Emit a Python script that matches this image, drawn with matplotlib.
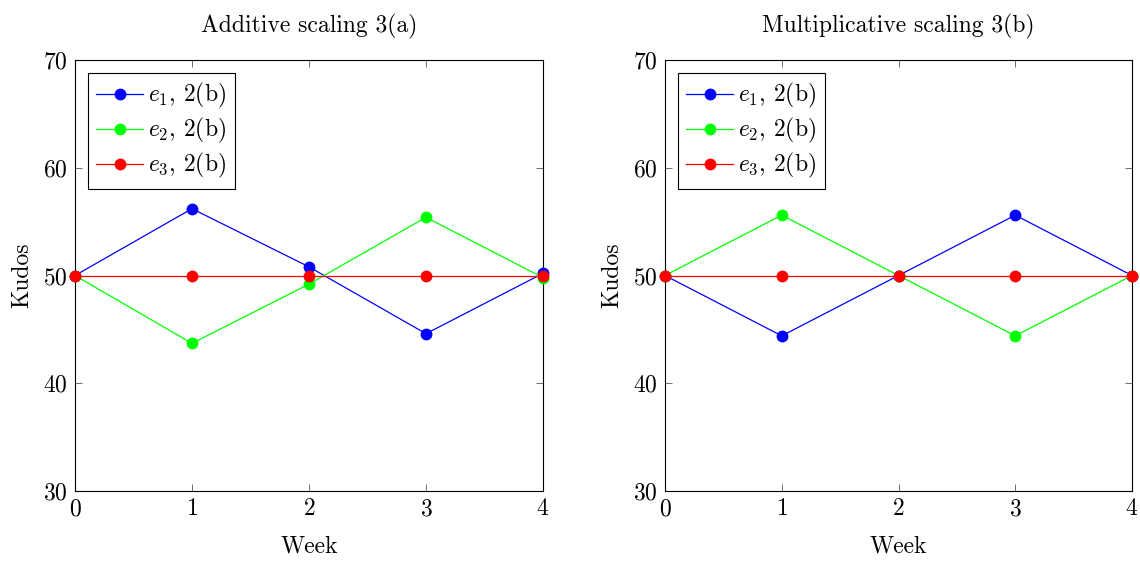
import matplotlib
matplotlib.use('Agg')
import matplotlib.pyplot as plt

plt.rcParams['font.family'] = 'serif'
plt.rcParams['font.serif'] = ['cmr10']
plt.rcParams['mathtext.fontset'] = 'cm'
plt.rcParams['axes.formatter.use_mathtext'] = True
plt.rcParams['font.size'] = 17

weeks = [0, 1, 2, 3, 4]

# Additive scaling
add_e1 = [50, 56.2, 50.8, 44.6, 50.2]
add_e2 = [50, 43.7, 49.2, 55.4, 49.8]
add_e3 = [50, 50, 50, 50, 50]

# Multiplicative scaling
mul_e1 = [50, 44.4, 50, 55.6, 50]
mul_e2 = [50, 55.6, 50, 44.4, 50]
mul_e3 = [50, 50, 50, 50, 50]

labels = [r'$e_1$, 2(b)', r'$e_2$, 2(b)', r'$e_3$, 2(b)']
colors = ['#0000ff', '#00ff00', '#ff0000']
titles = ['Additive scaling 3(a)', 'Multiplicative scaling 3(b)']

fig = plt.figure(figsize=(11.4, 5.61), dpi=100)
ax1 = fig.add_axes([75 / 1140, 1 - 491 / 561, 468 / 1140, 431 / 561])
ax2 = fig.add_axes([665 / 1140, 1 - 491 / 561, 467 / 1140, 431 / 561])

for ax, series, title in zip([ax1, ax2],
                             [[add_e1, add_e2, add_e3], [mul_e1, mul_e2, mul_e3]],
                             titles):
    for ys, c, lab in zip(series, colors, labels):
        ax.plot(weeks, ys, color=c, lw=0.9, marker='o', ms=7.5, label=lab,
                clip_on=False, zorder=3)
    ax.set_xlim(0, 4)
    ax.set_ylim(30, 70)
    ax.set_xticks(weeks)
    ax.set_yticks([30, 40, 50, 60, 70])
    ax.tick_params(direction='in', top=True, right=True, length=5, width=0.6,
                   color='#555555', labelsize=17, pad=5)
    for sp in ax.spines.values():
        sp.set_linewidth(0.8)
    ax.set_xlabel('Week', fontsize=17, labelpad=11)
    ax.set_ylabel('Kudos', fontsize=17, labelpad=7)
    ax.set_title(title, fontsize=17, pad=20)
    leg = ax.legend(loc='upper left', fancybox=False, edgecolor='black',
                    framealpha=1, fontsize=17, handlelength=2.0,
                    handletextpad=0.2, borderpad=0.35, labelspacing=0.25,
                    borderaxespad=0.55)
    leg.get_frame().set_linewidth(0.8)

fig.savefig('out.png', dpi=100)
